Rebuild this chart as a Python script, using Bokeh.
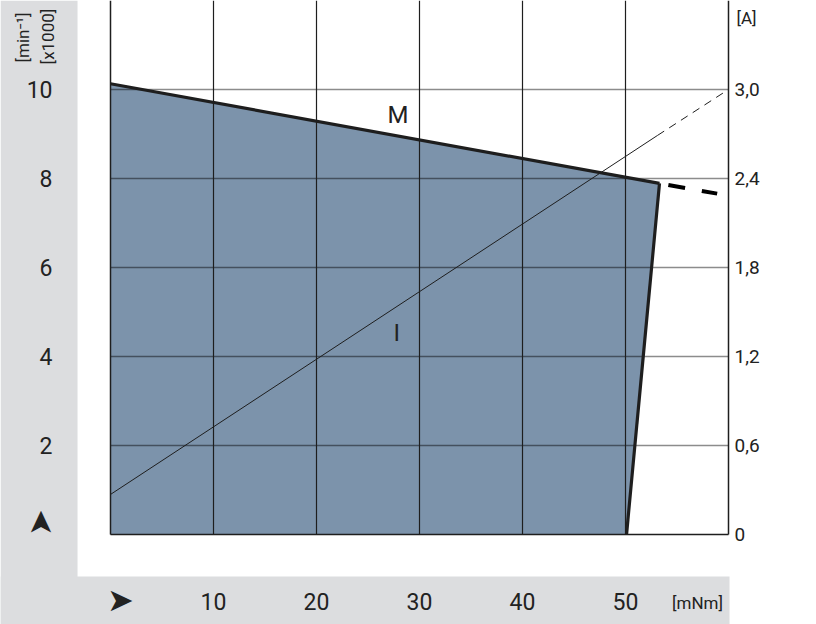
from math import pi
from bokeh.plotting import figure
from bokeh.models import (Range1d, LinearAxis, FixedTicker, CustomJSTickFormatter, Label)
from bokeh.embed import file_html
from bokeh.resources import INLINE

# ---- data ----
torque_M = [0.0, 53.3]          # mNm, speed curve M
speed_M = [10.13, 7.89]         # min^-1 x1000
torque_M_ext = [53.3, 58.9]     # dashed continuation of M
speed_M_ext = [7.89, 7.66]
torque_limit = [53.3, 50.1]     # right boundary of operating area
speed_limit = [7.89, 0.0]
torque_I = [0.0, 53.1]          # current line I
current_I = [0.27, 2.69]        # A
torque_I_ext = [53.1, 60.0]
current_I_ext = [2.69, 3.0]

speed_ticks = [2, 4, 6, 8, 10]
torque_ticks = [10, 20, 30, 40, 50]
current_ticks = [0, 0.6, 1.2, 1.8, 2.4, 3.0]
TORQUE_MAX = 60

FONT = "Roboto, sans-serif"
GRAY = "#dcdddf"
FILL = "#7c93ab"
INK = "#1e1e1e"

# scale: 10.3 px per mNm, 44.5 px per 1000 min^-1; frame covers the whole canvas
W, H = 816, 624
X0, Y0 = 110, 534          # canvas position of the origin
XS, YS = 10.3, 44.5
x_start, x_end = -X0 / XS, (W - X0) / XS
y_start, y_end = (Y0 - H) / YS, Y0 / YS
AMP = 0.3                  # 2000 min^-1 grid step <-> 0.6 A

p = figure(width=W, height=H, x_range=Range1d(x_start, x_end),
           y_range=Range1d(y_start, y_end),
           output_backend="svg", toolbar_location=None,
           min_border_left=0, min_border_right=0, min_border_top=0, min_border_bottom=0)
p.extra_y_ranges = {"amp": Range1d(y_start * AMP, y_end * AMP)}
p.outline_line_color = None
p.background_fill_color = "white"
p.border_fill_color = "white"
p.grid.visible = False

# gray panels (left column, bottom strip)
p.quad(left=[x_start, x_start], right=[-3.2, 60.1],
       bottom=[y_start, y_start], top=[y_end, -0.944],
       fill_color=GRAY, line_color=None)

# operating area
area_x = [torque_M[0]] + torque_M + [torque_limit[1]]
area_y = [0.0] + speed_M + [speed_limit[1]]
p.patch(area_x, area_y, fill_color=FILL, line_color=None)

# grid lines
p.segment(x0=[0] * len(speed_ticks), x1=[TORQUE_MAX] * len(speed_ticks),
          y0=speed_ticks, y1=speed_ticks, line_color="black", line_alpha=0.45,
          line_width=1.6)
p.segment(x0=torque_ticks, x1=torque_ticks, y0=[0] * len(torque_ticks),
          y1=[y_end] * len(torque_ticks), line_color=INK, line_width=1.2)

# lines
p.line(torque_I, current_I, y_range_name="amp", line_color=INK, line_width=1)
p.line(torque_I_ext, current_I_ext, y_range_name="amp", line_color=INK, line_width=1,
       line_dash="8 6")
p.line(torque_M, speed_M, line_color=INK, line_width=3.2)
p.line(torque_limit, speed_limit, line_color=INK, line_width=3.2)
p.line(torque_M_ext, speed_M_ext, line_color="black", line_width=4, line_dash="17 17",
       line_dash_offset=25)

# axes (drawn at fixed data locations)
def style(ax, size, standoff):
    ax.major_tick_line_color = None
    ax.minor_tick_line_color = None
    ax.axis_line_color = INK
    ax.axis_line_width = 1.5
    ax.major_label_text_font = FONT
    ax.major_label_text_font_size = size
    ax.major_label_text_color = "#222222"
    ax.major_label_standoff = standoff

xa = p.xaxis[0]
xa.ticker = FixedTicker(ticks=torque_ticks)
xa.fixed_location = 0
xa.bounds = (0, TORQUE_MAX)
style(xa, "23px", 52)

ya = p.yaxis[0]
ya.ticker = FixedTicker(ticks=speed_ticks)
ya.fixed_location = 0
ya.bounds = (0, y_end)
style(ya, "23px", 52)

ra = LinearAxis(y_range_name="amp", ticker=FixedTicker(ticks=current_ticks),
                formatter=CustomJSTickFormatter(
                    code="return tick == 0 ? '0' : tick.toFixed(1).replace('.', ',');"),
                fixed_location=TORQUE_MAX, bounds=(0, y_end * AMP))
style(ra, "19px", 0)
p.add_layout(ra, "right")

# text labels
def lab(x, y, text, size, font=FONT, angle=0):
    p.add_layout(Label(x=x, y=y, text=text, text_font=font, text_font_size=size,
                       text_color="#222222", text_align="center",
                       text_baseline="middle", angle=angle))

lab(27.9, 9.42, "M", "24px")
lab(27.8, 4.52, "I", "24px")
lab(61.75, 11.6, "[A]", "17px")
lab(56.99, -1.55, "[mNm]", "17px")
lab(-8.45, 11.17, "[min⁻¹]", "17px", angle=pi / 2)
lab(-6.02, 11.19, "[x1000]", "17px", angle=pi / 2)
lab(0.97, -1.48, "➤", "32px", font="DejaVu Sans")
lab(-6.8, 0.27, "➤", "32px", font="DejaVu Sans", angle=pi / 2)

open("out.html", "w").write(file_html(p, INLINE))
